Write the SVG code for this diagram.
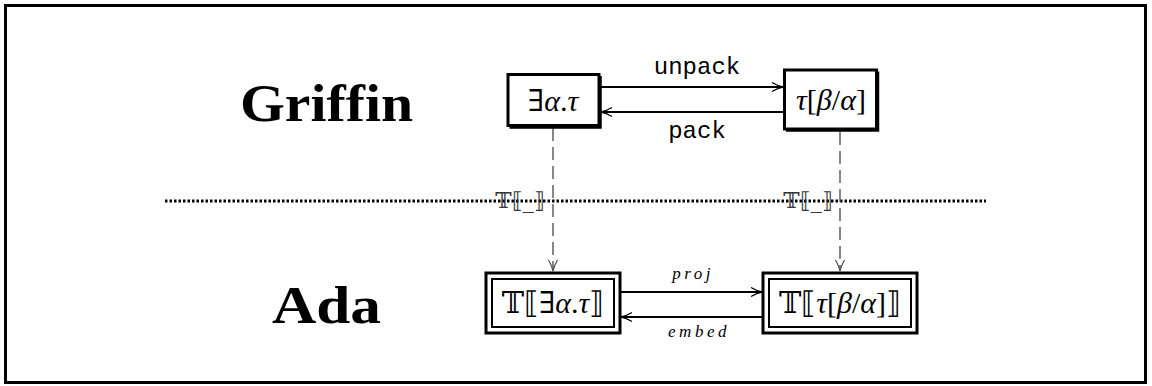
<svg xmlns="http://www.w3.org/2000/svg" width="1152" height="386" viewBox="0 0 1152 386">
<defs>
<style>
.title{font-family:"Liberation Serif","DejaVu Serif",serif;font-weight:bold;font-size:52px;fill:#000}
.math{font-family:"Liberation Serif","DejaVu Serif",serif;font-size:30px;fill:#000}
.it{font-style:italic}
.sym{font-family:"DejaVu Serif","Liberation Serif",serif;font-style:normal}
.tt{font-family:"Liberation Mono","DejaVu Sans Mono",monospace;font-size:24px;fill:#000}
.small{font-family:"Liberation Serif","DejaVu Serif",serif;font-style:italic;font-size:17px;letter-spacing:3.5px;fill:#000}
.lbl{font-family:"DejaVu Serif","Liberation Serif",serif;font-size:22px;fill:#333;opacity:0.99}
.box{fill:#fff;stroke:#000;stroke-width:3}
.shadow{fill:none;stroke:#000;stroke-width:2.5}
.arr{stroke:#000;stroke-width:2;fill:none}
.dash{stroke:#555;stroke-width:1.4;fill:none;stroke-dasharray:13 6}
.gray{opacity:0.99}
</style>
<marker id="head" markerUnits="userSpaceOnUse" markerWidth="14" markerHeight="12" refX="12" refY="6" orient="auto">
<path d="M1,1.5 Q7,5 12,6 Q7,7 1,10.5" fill="none" stroke="#000" stroke-width="1.3"/>
</marker>
<marker id="headg" markerUnits="userSpaceOnUse" markerWidth="14" markerHeight="12" refX="12" refY="6" orient="auto">
<path d="M1,1.5 Q7,5 12,6 Q7,7 1,10.5" fill="none" stroke="#555" stroke-width="1.3"/>
</marker>
</defs>
<rect x="0" y="0" width="1152" height="386" fill="#fff"/>
<rect x="5.5" y="5.5" width="1140" height="377" fill="none" stroke="#000" stroke-width="3"/>

<g id="title-griffin"><text class="title" x="240" y="121" textLength="173" lengthAdjust="spacingAndGlyphs">Griffin</text></g>
<g id="title-ada"><text class="title" x="272" y="323" textLength="109" lengthAdjust="spacingAndGlyphs">Ada</text></g>

<line x1="165" y1="201" x2="986" y2="201" stroke="#000" stroke-width="3" stroke-dasharray="2.5 2"/>

<g id="connectors">
<line class="arr" x1="601" y1="87" x2="783" y2="87" marker-end="url(#head)"/>
<line class="arr" x1="783" y1="112" x2="601" y2="112" marker-end="url(#head)"/>
<line class="dash" x1="553" y1="128" x2="553" y2="271" marker-end="url(#headg)"/>
<line class="dash" x1="840" y1="132" x2="840" y2="271" marker-end="url(#headg)"/>
<line class="arr" x1="621" y1="292" x2="762" y2="292" marker-end="url(#head)"/>
<line class="arr" stroke-width="3" x1="762" y1="317" x2="621" y2="317" marker-end="url(#head)"/>
<text class="tt" x="697" y="74" text-anchor="middle">unpack</text>
<text class="tt" x="697" y="138" text-anchor="middle">pack</text>
<text class="small" x="693" y="279" text-anchor="middle">proj</text>
<text class="small" x="699" y="337" text-anchor="middle">embed</text>
<text class="lbl" x="520" y="208" text-anchor="middle">𝕋⟦_⟧</text>
<text class="lbl" x="808" y="208" text-anchor="middle">𝕋⟦_⟧</text>
</g>

<g id="node-exists">
<rect class="box" x="508" y="74.5" width="91" height="51"/>
<path class="shadow" d="M600.5,76 V127.5 H509.5"/>
<text class="math" x="553" y="111" text-anchor="middle"><tspan class="sym">∃</tspan><tspan class="it">α</tspan>.<tspan class="it">τ</tspan></text>
</g>

<g id="node-subst">
<rect class="box" x="784.5" y="70" width="92" height="59"/>
<path class="shadow" d="M878,71.5 V130.5 H786"/>
<text class="math" x="831" y="110" text-anchor="middle"><tspan class="it">τ</tspan>[<tspan class="it">β</tspan>/<tspan class="it">α</tspan>]</text>
</g>

<g id="node-T-exists">
<rect x="486" y="273" width="134" height="60" fill="#fff" stroke="#000" stroke-width="3"/>
<rect x="492" y="279" width="122" height="48" fill="none" stroke="#000" stroke-width="2"/>
<text class="math gray" x="553" y="313" text-anchor="middle"><tspan class="sym">𝕋⟦∃</tspan><tspan class="it">α</tspan>.<tspan class="it">τ</tspan><tspan class="sym">⟧</tspan></text>
</g>

<g id="node-T-subst">
<rect x="763" y="273" width="154" height="60" fill="#fff" stroke="#000" stroke-width="3"/>
<rect x="769" y="279" width="142" height="48" fill="none" stroke="#000" stroke-width="2"/>
<text class="math gray" x="840" y="313" text-anchor="middle"><tspan class="sym">𝕋⟦</tspan><tspan class="it">τ</tspan>[<tspan class="it">β</tspan>/<tspan class="it">α</tspan>]<tspan class="sym">⟧</tspan></text>
</g>
</svg>
